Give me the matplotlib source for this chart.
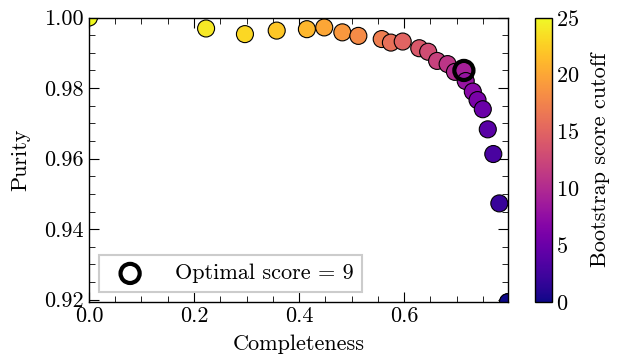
import numpy as np
import matplotlib
matplotlib.use('Agg')
import matplotlib.pyplot as plt
from matplotlib.ticker import MultipleLocator, FormatStrFormatter

# ── data ───────────────────────────────────────────────────────────────
score = [25, 24, 23, 22, 21, 20, 19, 18, 17, 16, 15, 14, 13,
         12, 11, 10, 9, 8, 7, 6, 5, 4, 3, 2, 1, 0]
completeness = [0.0, 0.223, 0.297, 0.3575, 0.415, 0.448, 0.4825, 0.513,
                0.5575, 0.575, 0.5975, 0.629, 0.646, 0.663, 0.683, 0.697,
                0.714, 0.7175, 0.731, 0.740, 0.750, 0.7595, 0.770, 0.7815,
                0.798, 0.798]
purity = [1.0, 0.9969, 0.9953, 0.9963, 0.9967, 0.9972, 0.9958, 0.9948,
          0.9939, 0.9929, 0.9932, 0.9913, 0.9903, 0.9877, 0.9868, 0.9846,
          0.9850, 0.9820, 0.9790, 0.9766, 0.9740, 0.9683, 0.9613, 0.9473,
          0.9193, 0.9193]
best_score = 9

FS = 16

plt.rcParams.update({
    'font.family': 'cmr10',
    'mathtext.fontset': 'cm',
    'axes.formatter.use_mathtext': True,
    'font.size': FS,
    'xtick.direction': 'in',
    'ytick.direction': 'in',
    'xtick.top': True,
    'ytick.right': True,
    'xtick.major.size': 7,
    'ytick.major.size': 7,
    'xtick.minor.size': 4,
    'ytick.minor.size': 4,
    'axes.linewidth': 1.0,
})

fig = plt.figure(figsize=(6.18, 3.58), dpi=100)
ax = fig.add_axes([0.144, 0.156, 0.678, 0.795])
cax = fig.add_axes([0.866, 0.156, 0.027, 0.795])

sc = ax.scatter(completeness, purity, c=score, cmap='plasma', vmin=0, vmax=25,
                s=150, edgecolors='black', linewidths=0.8, zorder=2)
ib = score.index(best_score)
ax.scatter([completeness[ib]], [purity[ib]], s=190, facecolors='none',
           edgecolors='black', linewidths=3.0, zorder=3,
           label=f'Optimal score = {best_score}')

ax.set_xlim(0, max(completeness))
ax.set_ylim(min(purity), 1.0)
ax.xaxis.set_major_locator(MultipleLocator(0.2))
ax.xaxis.set_minor_locator(MultipleLocator(0.05))
ax.yaxis.set_major_locator(MultipleLocator(0.02))
ax.yaxis.set_minor_locator(MultipleLocator(0.005))
ax.xaxis.set_major_formatter(FormatStrFormatter('%.1f'))
ax.yaxis.set_major_formatter(FormatStrFormatter('%.2f'))
ax.tick_params(which='both', labelsize=FS)
ax.tick_params(axis='x', pad=3)
ax.set_xlabel('Completeness', fontsize=FS, labelpad=6)
ax.set_ylabel('Purity', fontsize=FS, labelpad=10)

leg = ax.legend(loc='lower left', fancybox=False, framealpha=1,
                edgecolor='#cccccc', fontsize=FS, borderpad=0.4,
                handletextpad=1.0, borderaxespad=0.45)
leg.get_frame().set_linewidth(1.5)

cb = fig.colorbar(sc, cax=cax)
cb.set_ticks([0, 5, 10, 15, 20, 25])
cb.ax.tick_params(labelsize=FS, direction='in', length=0, pad=3)
cb.set_label('Bootstrap score cutoff', fontsize=FS, labelpad=8)

fig.savefig('out.png', dpi=100)
